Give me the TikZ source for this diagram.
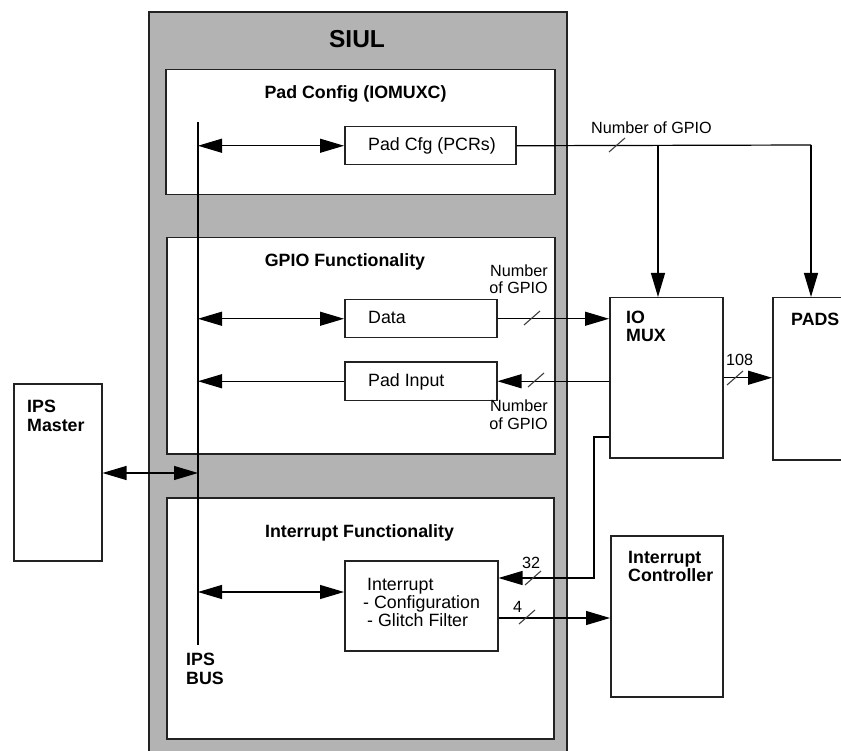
\documentclass[tikz,border=0pt]{standalone}
\usepackage{fontspec}
\setmainfont{Liberation Sans}
\usetikzlibrary{arrows.meta}
\definecolor{siulgray}{HTML}{B3B3B3}
\definecolor{edge}{HTML}{222222}

% short diagonal tick that marks a multi-bit bus
\newcommand\gpiotick[1]{\draw[tickline] (#1) ++(-8,7) -- ++(16,-14);}

\begin{document}
\begin{tikzpicture}[x=1pt,y=-1pt,
  blk/.style={draw=edge, line width=1.5pt, fill=white, inner sep=0pt, anchor=north west},
  conn/.style={draw=black, line width=1.2pt},
  tip/.style={-{Triangle[length=24pt,width=14pt]}},
  bitip/.style={{Triangle[length=24pt,width=14pt]}-{Triangle[length=24pt,width=14pt]}},
  tickline/.style={draw=black!75, line width=1.1pt},
  lbl/.style={font=\fontsize{17.8}{18}\selectfont, inner sep=0pt, align=left},
  ttl/.style={font=\bfseries\fontsize{17.8}{18}\selectfont, inner sep=0pt, align=left},
  sml/.style={font=\fontsize{16.2}{17.5}\selectfont, inner sep=0pt},
]
\useasboundingbox (0,0) rectangle (841,751);
\clip (0,0) rectangle (841,751);

% SIUL container
\node[draw=edge, line width=1.8pt, fill=siulgray, anchor=north west,
      minimum width=418pt, minimum height=770pt, inner sep=0pt] (siul) at (148,11) {};
\node[font=\bfseries\fontsize{24.5}{26}\selectfont, inner sep=0pt] (siultitle) at (357,39) {SIUL};

% functional blocks inside SIUL
\node[blk, minimum width=389pt, minimum height=125pt] (padconf) at (165,69) {};
\node[blk, minimum width=388pt, minimum height=216pt] (gpio) at (166,237) {};
\node[blk, minimum width=387pt, minimum height=241pt] (intf) at (166,497) {};

\node[ttl, anchor=base] (padconftitle) at (355.5,99) {Pad Config (IOMUXC)};
\node[ttl, anchor=base] (gpiotitle) at (345,267) {GPIO Functionality};
\node[ttl, anchor=base] (intftitle) at (359.5,537) {Interrupt Functionality};

% registers
\node[blk, minimum width=171pt, minimum height=38pt] (padcfg) at (344,126) {};
\node[blk, minimum width=152pt, minimum height=38pt] (data) at (344,299) {};
\node[blk, minimum width=152pt, minimum height=38pt] (padin) at (344,361.5) {};
\node[blk, minimum width=153pt, minimum height=90pt] (intr) at (344,560) {};

\node[lbl, anchor=base west] (padcfgtext) at (368,151) {Pad Cfg (PCRs)};
\node[lbl, anchor=base west] (datatext) at (368,324) {Data};
\node[lbl, anchor=base west] (padintext) at (368,386) {Pad Input};
\node[lbl, anchor=base west] (intrtext1) at (367,590) {Interrupt};
\node[lbl, anchor=base west] (intrtext2) at (363,608) {- Configuration};
\node[lbl, anchor=base west] (intrtext3) at (367,626) {- Glitch Filter};

% blocks outside SIUL
\node[blk, minimum width=88pt, minimum height=177pt] (ipsm) at (13,383) {};
\node[blk, minimum width=113pt, minimum height=160pt] (iomux) at (609,297) {};
\node[blk, minimum width=90pt, minimum height=162pt] (pads) at (772,297) {};
\node[blk, minimum width=112pt, minimum height=161pt] (intctrl) at (610,535) {};

\node[ttl, anchor=base west] (ipsmtext1) at (27,413) {IPS};
\node[ttl, anchor=base west] (ipsmtext2) at (27,431) {Master};
\node[ttl, anchor=base west] (iomuxtext1) at (626,324) {IO};
\node[ttl, anchor=base west] (iomuxtext2) at (626,342) {MUX};
\node[ttl, anchor=base west] (padstext) at (791,326) {PADS};
\node[ttl, anchor=base west] (intctrltext1) at (628,563) {Interrupt};
\node[ttl, anchor=base west] (intctrltext2) at (628,581) {Controller};

% IPS bus
\coordinate (bustop) at (198,122);
\coordinate (busbot) at (198,645);
\draw[conn] (bustop) -- (busbot);
\node[ttl, anchor=base west] (bustext1) at (186,665) {IPS};
\node[ttl, anchor=base west] (bustext2) at (186,684) {BUS};

% bus accesses
\draw[conn, bitip] (bustop |- padcfg.west) -- (padcfg.west);
\draw[conn, bitip] (bustop |- data.west) -- (data.west);
\draw[conn, tip] (padin.west) -- (bustop |- padin.west);
\draw[conn, bitip] (bustop |- 0,592) -- (intr.west |- 0,592);
\draw[conn, bitip] (ipsm.east |- 0,473) -- (bustop |- 0,473);

% pad configuration fan-out
\coordinate (muxdrop) at (658,145);
\coordinate (padsdrop) at (811,145);
\draw[conn] (padcfg.east) -- (padsdrop);
\draw[conn, tip] (muxdrop) -- (muxdrop |- iomux.north);
\draw[conn, tip] (padsdrop) -- (padsdrop |- pads.north);
\gpiotick{617,145}
\node[sml, anchor=base west] (cfgwidth) at (591,134) {Number of GPIO};

% GPIO data paths
\draw[conn, tip] (data.east) -- (iomux.west |- data.east);
\gpiotick{532,318}
\node[sml, anchor=base east, align=right] (datawidth) at (548,294) {Number\\of GPIO};

\draw[conn, tip] (iomux.west |- padin.east) -- (padin.east);
\gpiotick{536,380}
\node[sml, anchor=base east, align=right] (padinwidth) at (548,429) {Number\\of GPIO};

\draw[conn, tip] (iomux.east) -- (pads.west |- iomux.east);
\gpiotick{735,378}
\node[sml, anchor=base west] (padswidth) at (726,366) {108};

% interrupt paths
\coordinate (tap) at (594,437);
\draw[conn, tip] (iomux.west |- tap) -- (tap) |- (intr.east |- 0,578);
\gpiotick{533,578}
\node[sml, anchor=base west] (irqwidth) at (522,568) {32};

\draw[conn, tip] (intr.east |- 0,618) -- (intctrl.west |- 0,618);
\gpiotick{527,617}
\node[sml, anchor=base west] (irqoutwidth) at (513,612) {4};
\end{tikzpicture}
\end{document}
